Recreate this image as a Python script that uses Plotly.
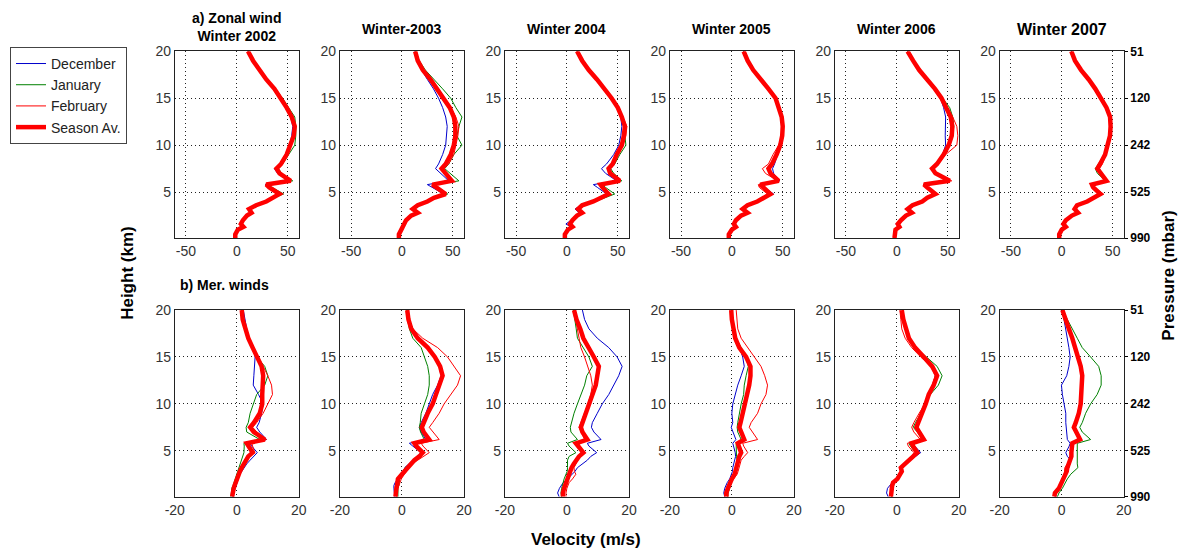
import plotly.graph_objects as go
from plotly.subplots import make_subplots

# ---------------- data ----------------
heights = [0.1, 0.5, 1.0, 1.3, 1.6, 2.0, 2.5, 2.8, 3.2, 3.6, 4.0, 4.4, 4.8, 5.5, 5.8, 6.2,
           7.0, 7.5, 8.0, 9.0, 10.0, 11.0, 12.0, 13.0, 14.0, 15.0, 16.0, 17.0, 18.0, 19.0, 20.0]

years = ["2002", "2003", "2004", "2005", "2006", "2007"]
top_titles = ["a) Zonal wind<br>Winter 2002", "Winter-2003", "Winter 2004",
              "Winter 2005", "Winter 2006", "Winter 2007"]
series_names = ["December", "January", "February", "Season Av."]
pressure_ticks = ["51", "120", "242", "525", "990"]
pressure_heights = [20, 15, 10, 5, 0.1]

# zonal wind (m/s)
u02_dec = [-2, -1.5, 0.5, 6, 3.5, 5.5, 9.5, 14, 11.5, 18, 28, 34, 40, 31, 28, 51, 40, 37, 42, 48, 52, 54, 55, 53, 48.5, 43, 36.5, 29, 22, 16, 11]
u02_jan = [-1, -1, 1.5, 7, 4.5, 6.5, 10.5, 15, 12.5, 20, 30, 37, 46, 34, 30, 55, 44, 41, 45, 51, 57, 58, 58, 57, 51, 45, 38, 30, 22.5, 16.5, 11.5]
u02_feb = [-1.5, -1.5, 1, 6.5, 4, 6, 10, 14.5, 12, 19, 29, 35, 42, 32, 29, 53, 42, 39, 43.5, 48.5, 52, 56, 57.5, 53.5, 48.5, 43, 36.5, 29, 21.5, 16, 10.5]
u02_av = [-1.5, -1.5, 1, 6.5, 4, 6, 10, 14.5, 12, 19, 29, 35, 42, 32, 29, 53, 42, 39, 43.5, 49, 53, 56, 57, 54, 49, 43.5, 37, 29, 22, 16, 11]

u03_dec = [-3.5, -3, -1, 0.5, 1.5, 3.5, 8.5, 15, 10, 15, 24, 30, 41, 30, 25, 46, 38, 33, 36, 40, 43, 44, 44.5, 43, 40, 36, 31, 25, 19.5, 15.5, 12.5]
u03_jan = [-2.5, -2.5, 0, 1.5, 2.5, 4.5, 9.5, 16, 11, 16, 26, 33, 45, 35, 32, 56, 47, 42, 46, 51, 59, 54, 56, 59, 53, 48, 40, 31.5, 23, 17, 13.5]
u03_feb = [-3, -3, -0.5, 1, 2, 4, 9, 15.5, 10.5, 15.5, 25, 31.5, 43, 33, 31, 48, 44, 41, 46, 51, 53, 55, 56, 53, 48, 41, 34, 27.5, 20.5, 15.5, 13]
u03_av = [-3, -3, -0.6, 1, 2, 4, 9, 15.5, 10.6, 15.5, 25, 31.5, 43, 33, 30, 49, 43, 39, 43, 48, 51, 52.5, 52.5, 51, 47, 41, 34.5, 28, 20.5, 15.5, 13]

u04_dec = [-2.5, -2.5, 0, 4, -1, 4, 8.5, 12, 8, 14, 25, 32, 39, 30, 26, 49, 38, 34, 39, 46, 51, 53, 54, 53, 50, 44, 37, 29.5, 22, 15.5, 10.5]
u04_jan = [-1.5, -1.5, 1.5, 6, 4, 6, 11, 16, 12, 17, 28, 37, 47, 38, 35, 54, 46, 43, 47, 52, 58, 57, 57, 54, 50, 44.5, 37.5, 30, 21.5, 15, 10]
u04_feb = [-2, -2, 1, 5.5, 3, 5.5, 10, 15, 11, 15, 26, 34, 42, 35, 33, 53, 44, 42, 46, 50, 55, 58, 59, 55, 50, 44, 37, 29.5, 21.5, 14.5, 9.5]
u04_av = [-2, -2, 1, 5.5, 3, 5.5, 10, 15, 11, 15, 26, 34, 41, 35, 33, 52, 42.5, 41, 45, 49, 54, 56, 57, 54, 50, 44, 37, 29.6, 21.5, 15, 10]

u05_dec = [-3, -3, 0, 4, 2, 4, 9, 15, 10.6, 15.4, 25.5, 33, 41, 32, 29, 47, 41, 40, 42, 45, 48, 49.5, 50, 49, 47, 43.5, 36, 28, 21, 15.5, 11.6]
u05_jan = [-2.5, -2.5, 0.5, 4.5, 2.5, 4.5, 9.5, 15.5, 11, 16, 25, 31, 38, 31, 28, 46, 38, 36, 39.5, 44, 48, 50, 50.5, 49.5, 46.5, 43, 36, 28, 21, 15.5, 11.6]
u05_feb = [-3, -3, 0, 4, 2, 4, 9, 15, 10.5, 15, 24, 30, 35, 27, 26, 45, 33, 30, 36, 40.5, 46, 49.5, 50, 49, 46.5, 43, 36, 28, 21, 15.5, 11.5]
u05_av = [-3, -3, 0, 4, 2, 4, 9, 15.4, 10.6, 15.4, 25, 31.5, 38, 31, 28, 46, 38, 36, 39.5, 44, 47.6, 49.5, 50, 49, 46.5, 43, 36, 28, 21, 15.5, 11.6]

u06_dec = [-2.5, -2.5, -1.5, 2.5, -1, 3.5, 8.5, 14, 10, 15, 24.5, 29.5, 37, 29, 26, 51, 37, 34, 39, 45, 48, 47.6, 47.6, 48, 46, 43, 37, 30, 22, 16, 10.6]
u06_jan = [-2, -2, -1, 3, 1.5, 4.5, 9.5, 15.5, 11, 16, 25.5, 30.5, 38.5, 30.5, 27, 52, 38.5, 35, 40, 46.5, 52, 55, 56, 55, 52, 45, 38, 30.5, 22, 16, 10.6]
u06_feb = [-2.3, -2.3, -1, 2.6, 1, 4, 9, 14.8, 10.6, 15.4, 25, 30, 38, 30, 26.7, 54, 39, 35.5, 41, 48, 59, 60, 59, 55, 50, 44, 37.5, 30, 22, 16, 10.6]
u06_av = [-2.3, -2.3, -1.3, 2.6, 1, 4, 9, 14.8, 10.6, 15.4, 25, 30, 38, 30, 26.7, 52, 38, 34.7, 39.5, 46, 51, 54, 54.6, 53, 49, 44, 37.5, 30, 22, 16, 10.6]

u07_dec = [-2.5, -2.5, 0, 4, 1.6, 4, 10, 16, 12.6, 15, 25, 31, 38, 31, 29.7, 44, 37.7, 35, 38, 42.6, 45.5, 47.4, 48, 47.5, 44, 39, 33, 26.5, 19, 13, 9.4]
u07_jan = [-2, -2, 0.5, 4.5, 2, 4.5, 10.5, 16.5, 13, 15.5, 25, 30, 36, 29, 29, 43, 35, 33, 36, 42, 45, 47.5, 48, 47.5, 44, 39, 33, 26.5, 19, 13, 9.4]
u07_feb = [-2.5, -2.5, 0, 4, 1.6, 4, 10, 16, 12.6, 15, 25.5, 32, 41, 32, 30.5, 45, 39.5, 37, 40, 43.5, 46, 47.5, 48, 47.5, 44, 39, 33, 26.5, 19, 13, 9.4]
u07_av = [-2.5, -2.5, 0, 4, 1.6, 4, 10, 16, 12.6, 15, 25, 31, 38, 31, 29.7, 44, 37.7, 35, 37.7, 42.6, 45, 47.4, 48, 47.5, 44, 39, 33, 26.5, 19, 13, 9.4]

# meridional wind (m/s)
v02_dec = [-1.2, -1.0, -0.5, -0.2, 0.2, 0.5, 1, 1.6, 2.3, 3.2, 4.3, 5.3, 6.6, 4.8, 4.2, 9.6, 7.4, 6.4, 7.2, 8, 8.5, 7, 5.3, 5.5, 5.8, 5.9, 5.2, 4, 3.2, 2.6, 2.1]
v02_jan = [-1.9, -1.8, -1.6, -1.2, -0.9, -0.5, 0, 0.3, 0.6, 1.1, 1.6, 2, 2.3, 2.4, 2.3, 7.4, 3.2, 3, 3.7, 4.3, 5.3, 6.4, 9, 10, 9, 6.5, 5, 3.5, 2.6, 2, 1.5]
v02_feb = [-1.3, -1.2, -0.8, -0.5, -0.1, 0.2, 0.7, 1.2, 1.6, 2.4, 3.2, 4, 5.8, 5, 4.8, 9.6, 6.5, 5.1, 6.4, 8.5, 10, 11.5, 11.2, 10, 8.5, 6.8, 5.3, 3.8, 2.8, 2, 1.7]
v02_av = [-1.5, -1.4, -1, -0.7, -0.4, 0, 0.5, 1, 1.6, 2.2, 2.7, 3.7, 5.1, 3.7, 3.2, 9, 5.5, 4.3, 5.5, 7.4, 8.2, 8.2, 8.5, 8.5, 8, 6.4, 5.1, 3.7, 2.7, 1.9, 1.6]

v03_dec = [-2.3, -2.5, -2.6, -2.6, -2.2, -1.3, 0, 0.5, 0.9, 2.2, 3.5, 5, 6.2, 3.5, 2.4, 7.7, 6.2, 5.6, 6.2, 7.7, 8.8, 9.9, 11.5, 12.6, 12, 10.9, 8.8, 5.6, 3.5, 2.3, 1.8]
v03_jan = [-1.3, -1.3, -1.3, -1.0, -0.8, -0.7, 0.3, 0.8, 1, 2.5, 4, 5.2, 6.2, 4.3, 3.5, 7.2, 6, 5.6, 5.9, 6.2, 7.2, 8.3, 8.8, 8.8, 8.3, 7.2, 6.2, 3.5, 2.4, 1.8, 1.5]
v03_feb = [-1.8, -1.7, -1.3, -1.0, -0.7, -0.2, 0.8, 1.5, 2.1, 3.3, 5.1, 7, 8.8, 6.8, 6.2, 12, 9.9, 8.8, 9.9, 12, 13.6, 15.7, 17.9, 18.9, 16.8, 14.7, 11.5, 6.7, 3.5, 2.4, 1.9]
v03_av = [-2.1, -2.1, -1.8, -1.6, -1.5, -1.3, 0, 0.8, 1.4, 2.6, 4, 5.6, 6.7, 4.6, 4, 8.8, 7, 6.4, 7, 8.3, 9.9, 11, 12.3, 13.1, 12.3, 10.6, 8.3, 5.1, 3, 2.1, 1.7]

v04_dec = [-2.5, -3, -2.4, -1.8, -1.2, 0.2, 1.8, 2.6, 3.4, 5, 6.6, 7.7, 9.6, 7.1, 6.6, 11, 8.7, 7.9, 8.2, 9.8, 11.4, 13.5, 15.1, 16.7, 17.8, 16.2, 13.5, 9.8, 7.1, 5.7, 5]
v04_jan = [-1.7, -1.9, -1.7, -1.5, -1.4, -0.9, -0.3, 0.1, 0.2, 0.3, 0.2, 0.7, 2.9, 0.7, 0.2, 3.4, 1.3, 1.1, 1.5, 2.3, 3.4, 4.5, 5.7, 6.4, 8.2, 7.1, 5.3, 3.4, 3, 2.5, 2.1]
v04_feb = [-0.3, -0.3, 0, 0.4, 0.7, 1.8, 2.9, 2.4, 2.3, 2.9, 3.4, 4, 5, 3.6, 2.9, 5.7, 4.5, 3.9, 4.5, 5.7, 6.8, 7.7, 8.2, 7.7, 6.8, 5.7, 4.5, 3.9, 3.4, 2.8, 2.5]
v04_av = [-1.3, -1.3, -0.9, -0.6, -0.2, 0.2, 0.7, 1.1, 1.5, 2.2, 2.9, 3.9, 5.3, 3.4, 2.9, 6.6, 5, 4.5, 5, 6.1, 7.1, 8.2, 9.3, 9.8, 10.3, 8.7, 7.1, 5.3, 4.3, 3.1, 2.3]

v05_dec = [-2.3, -2.6, -2.3, -2, -1.5, -0.7, 0, 0.2, 0.3, 0.6, 0.9, 1.2, 1.1, 0.5, 0.3, 1.3, 0.3, -0.2, 0.3, 0, 0.3, 1.1, 1.9, 3, 4, 3.5, 2.4, 1.4, 0.6, 0.2, 0]
v05_jan = [-1.3, -1.2, -0.7, -0.4, 0, 0.3, 0.9, 1.1, 1.4, 1.6, 1.7, 1.5, 1.4, 1.4, 1.4, 3, 1.9, 1.7, 1.9, 2.4, 3, 3.8, 4, 4.6, 5.3, 4.6, 3, 1.4, 0.6, 0.2, 0]
v05_feb = [-1.3, -1.3, -0.7, -0.4, -0.2, 0.6, 1.7, 2, 2.4, 2.8, 3, 4, 5.1, 3.8, 3.5, 8.3, 6.6, 5.6, 6.2, 8.3, 9.4, 11, 11.5, 10.6, 9.4, 7.2, 5.1, 3, 1.9, 1.7, 1.4]
v05_av = [-1.8, -1.8, -1.3, -1.0, -0.6, 0, 0.9, 1.1, 1.4, 1.6, 1.9, 2.4, 3, 2.1, 1.9, 4, 2.8, 2.4, 2.8, 3.5, 4.3, 4.9, 5.6, 6, 6, 4.6, 2.4, 1.1, 0.4, 0, -0.2]

v06_dec = [-2.8, -3.3, -3, -2.2, -1.5, 0, 1.2, 1.6, 1.1, 2.8, 4.5, 6, 7.7, 5.8, 5.2, 9.2, 7.5, 6.6, 7.2, 8.5, 9.6, 10.5, 11.6, 12.4, 11.2, 8.6, 6, 4, 3, 2.3, 1.8]
v06_jan = [-1.6, -1.6, -1.2, -1.0, -0.8, 0.5, 1.5, 1.9, 1.6, 2.7, 3.7, 4.8, 6, 4.4, 3.9, 8.2, 6.6, 5.3, 6, 7.8, 9.3, 10.8, 13.4, 14.6, 13, 9.5, 6.1, 4.2, 3, 2.4, 1.8]
v06_feb = [-1.7, -1.8, -1.5, -1.3, -1.0, 0.3, 1.3, 1.6, 1.6, 2.5, 3.9, 4.8, 5.5, 3.7, 3.4, 7.6, 5.5, 4.8, 5.5, 7.2, 9.1, 10.1, 11.4, 12.4, 11.1, 7.7, 4.8, 2.7, 1.6, 1.3, 1]
v06_av = [-1.9, -1.9, -1.6, -1.5, -1.2, 0.2, 1.3, 1.6, 1.3, 2.6, 3.9, 5.2, 6.6, 5.2, 4.8, 8.7, 7.2, 6.3, 6.9, 8.2, 9.3, 10.3, 11.9, 13, 11.4, 8.7, 5.9, 3.9, 2.9, 2.1, 1.6]

v07_dec = [-1.9, -1.9, -0.9, -0.4, 0, 0.7, 1.3, 1.8, 2.3, 2.6, 2.9, 1.8, 1.3, 2.4, 2.7, 1.8, 1.6, 1.6, 1.3, 1.3, 0.7, 0.2, -0.1, 1.6, 2.3, 2.7, 2.3, 1.8, 1.3, 0.7, 0.2]
v07_jan = [-1.4, -0.9, 0.2, 0.7, 1, 1.8, 2.9, 3.9, 5.2, 5, 5, 5, 5, 5.2, 5, 9.3, 6.6, 5.8, 6.6, 7.7, 9.3, 11.4, 12.7, 12.7, 11.9, 9.3, 6.6, 5, 3.4, 1.8, 0.2]
v07_feb = [-2.2, -2.0, -0.9, -0.5, -0.1, 0.5, 0.8, 0.8, 1, 1.8, 2.5, 3, 3.2, 3.2, 3.2, 5.6, 4.3, 3.7, 4.3, 5.3, 6, 6.2, 6.4, 6.2, 5.8, 4.9, 4.2, 3.2, 2.2, 1.2, 0.2]
v07_av = [-2.4, -2.2, -0.9, -0.5, -0.1, 0.7, 1, 1.6, 1.8, 2.2, 2.7, 3.1, 3.1, 3.4, 3.4, 5.9, 4.5, 3.9, 4.5, 5.5, 6.1, 6.3, 6.6, 6.6, 6.1, 5.2, 4.5, 3.4, 2.3, 1.3, 0.2]

zonal = [
    [u02_dec, u02_jan, u02_feb, u02_av],
    [u03_dec, u03_jan, u03_feb, u03_av],
    [u04_dec, u04_jan, u04_feb, u04_av],
    [u05_dec, u05_jan, u05_feb, u05_av],
    [u06_dec, u06_jan, u06_feb, u06_av],
    [u07_dec, u07_jan, u07_feb, u07_av],
]
meridional = [
    [v02_dec, v02_jan, v02_feb, v02_av],
    [v03_dec, v03_jan, v03_feb, v03_av],
    [v04_dec, v04_jan, v04_feb, v04_av],
    [v05_dec, v05_jan, v05_feb, v05_av],
    [v06_dec, v06_jan, v06_feb, v06_av],
    [v07_dec, v07_jan, v07_feb, v07_av],
]

# ---------------- styling ----------------
W, H = 1184, 555
colors = ["#0000cc", "#008000", "#ff0000", "#ff0000"]
widths = [1, 1, 1, 4.5]
FONT = "Liberation Sans, Arial, sans-serif"
TICKC = "#333333"

fig = make_subplots(rows=2, cols=6)

lefts = [167.3, 335.0, 502.5, 670.0, 837.5, 1005.0]
pw = 126
top_row = [1 - 236.5 / H, 1 - 44.5 / H]
bot_row = [1 - 502.3 / H, 1 - 310.5 / H]

for row, dataset in ((1, zonal), (2, meridional)):
    for c in range(6):
        for s in range(4):
            fig.add_trace(go.Scatter(
                x=dataset[c][s], y=heights, mode="lines",
                line=dict(color=colors[s], width=widths[s]),
                name=series_names[s], legendgroup=series_names[s],
                showlegend=(row == 1 and c == 0), hoverinfo="skip"),
                row=row, col=c + 1)

axis_common = dict(showline=True, mirror=True, linecolor="#222222", linewidth=1,
                   showgrid=True, gridcolor="#222222", griddash="1px,3px", gridwidth=1,
                   zeroline=False, ticks="", tickfont=dict(family=FONT, size=14, color=TICKC))

for i in range(12):
    row = i // 6
    c = i % 6
    sfx = "" if i == 0 else str(i + 1)
    xd = [lefts[c] / W, (lefts[c] + pw) / W]
    if row == 0:
        xr = [-61, 61]
        tv = [-50, 0, 50]
        tt = ["-50", "0", "50"]
        yd = top_row
    else:
        xr = [-20, 20]
        tv = [-20, 0, 20]
        tt = ["-20", "0", "20"]
        yd = bot_row
    fig.layout["xaxis" + sfx].update(domain=xd, range=xr, tickvals=tv, ticktext=tt, **axis_common)
    fig.layout["yaxis" + sfx].update(domain=yd, range=[0.1, 20], tickvals=[5, 10, 15, 20],
                                     ticktext=["5", "10", "15", "20"], **axis_common)

# right-hand pressure axes
press_axis = dict(range=[0.1, 20], tickvals=pressure_heights, ticktext=pressure_ticks,
                  side="right", showgrid=False, zeroline=False, showline=False,
                  ticks="outside", ticklen=3, tickcolor="#000000",
                  tickfont=dict(family=FONT, size=12, color="#000000", weight="bold"))
fig.update_layout(
    yaxis13=dict(overlaying="y6", anchor="x6", **press_axis),
    yaxis14=dict(overlaying="y12", anchor="x12", **press_axis),
)
fig.add_trace(go.Scatter(x=[0], y=[10], xaxis="x6", yaxis="y13", mode="markers",
                         marker=dict(opacity=0), showlegend=False, hoverinfo="skip"))
fig.add_trace(go.Scatter(x=[0], y=[10], xaxis="x12", yaxis="y14", mode="markers",
                         marker=dict(opacity=0), showlegend=False, hoverinfo="skip"))

# titles and labels
ann = []
for c in range(6):
    xc = (lefts[c] + pw / 2) / W
    if c == 0:
        ann.append(dict(x=xc, y=1 - 39 / H, text=top_titles[c], showarrow=False,
                        xref="paper", yref="paper", xanchor="center", yanchor="bottom",
                        font=dict(family=FONT, size=14, color="#000", weight="bold")))
    else:
        ann.append(dict(x=xc, y=1 - 22 / H, text=top_titles[c], showarrow=False,
                        xref="paper", yref="paper", xanchor="center", yanchor="middle",
                        font=dict(family=FONT, size=16 if c == 5 else 14, color="#000", weight="bold")))
ann.append(dict(x=171 / W, y=1 - 285 / H, text="b) Mer. winds", showarrow=False,
                xref="paper", yref="paper", xanchor="left", yanchor="middle",
                font=dict(family=FONT, size=14, color="#000", weight="bold")))
ann.append(dict(x=119 / W, y=1 - 272 / H, text="Height (km)", showarrow=False, textangle=-90,
                xref="paper", yref="paper", xanchor="center", yanchor="middle",
                font=dict(family=FONT, size=17, color="#000", weight="bold")))
ann.append(dict(x=1176 / W, y=1 - 275 / H, text="Pressure (mbar)", showarrow=False, textangle=-90,
                xref="paper", yref="paper", xanchor="center", yanchor="middle",
                font=dict(family=FONT, size=17, color="#000", weight="bold")))
ann.append(dict(x=585 / W, y=1 - 546 / H, text="Velocity (m/s)", showarrow=False,
                xref="paper", yref="paper", xanchor="center", yanchor="middle",
                font=dict(family=FONT, size=17, color="#000", weight="bold")))

fig.update_layout(
    width=W, height=H, margin=dict(l=0, r=0, t=0, b=0),
    paper_bgcolor="white", plot_bgcolor="white",
    annotations=ann,
    legend=dict(x=0, y=1 - 40 / H, xanchor="left", yanchor="top",
                bgcolor="white", bordercolor="#444444", borderwidth=1,
                font=dict(family=FONT, size=14, color="#222"), tracegroupgap=0,
                itemwidth=30),
)

fig.write_html("out.html")
